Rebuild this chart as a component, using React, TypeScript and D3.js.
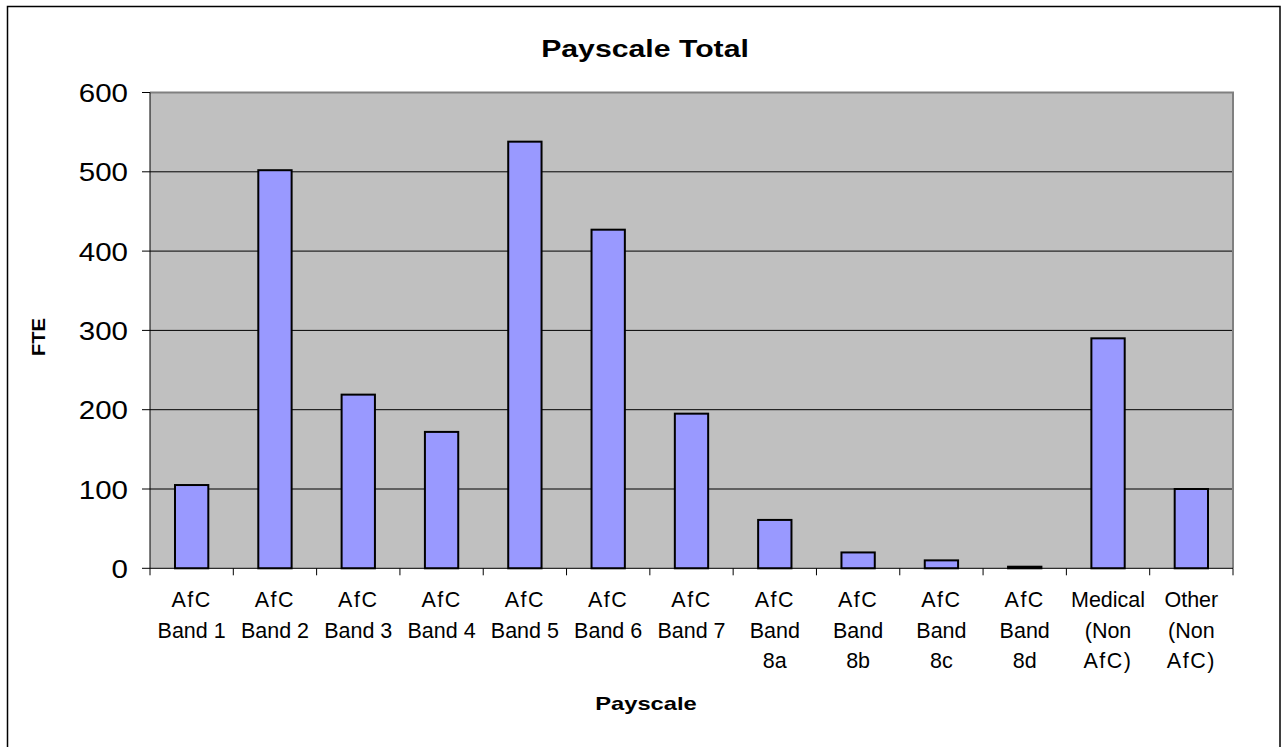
import React from "react";
import * as d3 from "d3";

const categories: string[][] = [
  ["AfC", "Band 1"],
  ["AfC", "Band 2"],
  ["AfC", "Band 3"],
  ["AfC", "Band 4"],
  ["AfC", "Band 5"],
  ["AfC", "Band 6"],
  ["AfC", "Band 7"],
  ["AfC", "Band", "8a"],
  ["AfC", "Band", "8b"],
  ["AfC", "Band", "8c"],
  ["AfC", "Band", "8d"],
  ["Medical", "(Non", "AfC)"],
  ["Other", "(Non", "AfC)"],
];
const values: number[] = [105, 502, 219, 172, 538, 427, 195, 61, 20, 10, 2, 290, 100];
const yTicks: number[] = [0, 100, 200, 300, 400, 500, 600];
const title = "Payscale Total";
const xTitle = "Payscale";
const yTitle = "FTE";

const W = 1282;
const H = 747;
const plot = { left: 150, right: 1233, top: 92.5, bottom: 568.3 };
const FONT = "Arial, 'Liberation Sans', sans-serif";

export default function App() {
  const keys = categories.map((c) => c.join(" "));
  const x = d3
    .scaleBand<string>()
    .domain(keys)
    .range([plot.left, plot.right])
    .paddingInner(0.6)
    .paddingOuter(0.3);
  const y = d3.scaleLinear().domain([0, 600]).range([plot.bottom, plot.top]);
  const step = x.step();
  const boundaries = d3.range(categories.length + 1).map((i) => plot.left + i * step);

  return (
    <svg
      width={W}
      height={H}
      style={{ position: "absolute", left: 0, top: 0, background: "#fff" }}
      fontFamily={FONT}
    >
      <rect x={7.5} y={6.5} width={1272.5} height={900} fill="#fff" stroke="#000" strokeWidth={1.5} />

      <text
        transform={`translate(645,57) scale(1.26,1)`}
        textAnchor="middle"
        fontSize={24}
        fontWeight="bold"
        fill="#000"
      >
        {title}
      </text>

      {/* plot background */}
      <rect
        x={plot.left}
        y={plot.top}
        width={plot.right - plot.left}
        height={plot.bottom - plot.top}
        fill="#C0C0C0"
      />
      {/* gridlines */}
      {yTicks
        .filter((t) => t > 0 && t < 600)
        .map((t) => (
          <line
            key={"g" + t}
            x1={plot.left}
            x2={plot.right}
            y1={y(t)}
            y2={y(t)}
            stroke="#000"
            strokeWidth={1}
          />
        ))}
      {/* top and right border */}
      <path
        d={`M${plot.left},${plot.top}H${plot.right}V${plot.bottom}`}
        fill="none"
        stroke="#808080"
        strokeWidth={2}
      />

      {/* bars */}
      {values.map((v, i) => (
        <rect
          key={"b" + i}
          x={x(keys[i])!}
          y={y(v)}
          width={x.bandwidth()}
          height={plot.bottom - y(v)}
          fill="#9999FF"
          stroke="#000"
          strokeWidth={2}
        />
      ))}

      {/* axes */}
      <line x1={plot.left} x2={plot.left} y1={plot.top} y2={plot.bottom} stroke="#000" strokeWidth={1} />
      <line x1={plot.left} x2={plot.right} y1={plot.bottom} y2={plot.bottom} stroke="#000" strokeWidth={1} />
      {yTicks.map((t) => (
        <g key={"yt" + t}>
          <line x1={plot.left - 8} x2={plot.left} y1={y(t)} y2={y(t)} stroke="#000" strokeWidth={1} />
          <text
            transform={`translate(128,${y(t) + 9.5}) scale(1.18,1)`}
            textAnchor="end"
            fontSize={25}
            fill="#000"
          >
            {t}
          </text>
        </g>
      ))}
      {boundaries.map((b, i) => (
        <line key={"xt" + i} x1={b} x2={b} y1={plot.bottom} y2={plot.bottom + 7} stroke="#000" strokeWidth={1} />
      ))}
      {categories.map((lines, i) => {
        const cx = x(keys[i])! + x.bandwidth() / 2;
        return (
          <text key={"xl" + i} textAnchor="middle" fontSize={21.5} fill="#000">
            {lines.map((ln, j) => (
              <tspan
                key={j}
                x={cx}
                y={607 + j * 30.5}
                letterSpacing={ln === "AfC" || ln === "AfC)" ? 1.5 : 0}
              >
                {ln}
              </tspan>
            ))}
          </text>
        );
      })}

      <text
        transform={`translate(646,710) scale(1.25,1)`}
        textAnchor="middle"
        fontSize={19}
        fontWeight="bold"
        fill="#000"
      >
        {xTitle}
      </text>
      <text
        transform={`translate(45,337) rotate(-90) scale(1.12,1)`}
        textAnchor="middle"
        fontSize={18}
        fontWeight="bold"
        fill="#000"
      >
        {yTitle}
      </text>
    </svg>
  );
}
